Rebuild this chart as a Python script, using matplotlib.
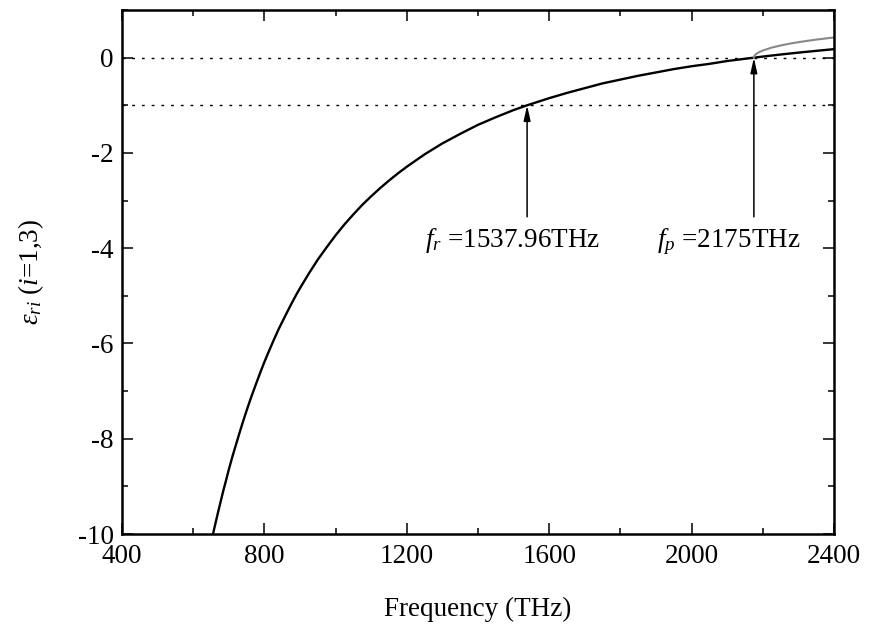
import matplotlib
matplotlib.use("Agg")
import matplotlib.pyplot as plt
from matplotlib.ticker import MultipleLocator

plt.rcParams['font.family'] = ['Liberation Serif', 'DejaVu Serif']
plt.rcParams['mathtext.fontset'] = 'custom'
plt.rcParams['mathtext.rm'] = 'Liberation Serif'
plt.rcParams['mathtext.it'] = 'Liberation Serif:italic'
plt.rcParams['axes.unicode_minus'] = False

# 数据
freq = [656, 660, 665, 670, 685, 690, 700, 710, 720, 730, 740, 750, 760, 775,
        790, 800, 810, 825, 840, 850, 860, 875, 890, 900, 925, 950, 975, 1000,
        1025, 1050, 1075, 1100, 1125, 1150, 1175, 1200, 1250, 1300, 1350, 1400,
        1450, 1500, 1538, 1600, 1650, 1700, 1750, 1800, 1850, 1900, 1950, 2000,
        2050, 2100, 2175, 2200, 2250, 2300, 2350, 2400]
eps = [-9.99, -9.86, -9.70, -9.54, -9.08, -8.94, -8.65, -8.38, -8.13, -7.88,
       -7.64, -7.41, -7.19, -6.88, -6.58, -6.39, -6.21, -5.95, -5.70, -5.55,
       -5.40, -5.18, -4.97, -4.84, -4.53, -4.24, -3.98, -3.73, -3.50, -3.29,
       -3.09, -2.91, -2.74, -2.58, -2.43, -2.29, -2.03, -1.80, -1.60, -1.41,
       -1.25, -1.10, -1.00, -0.85, -0.74, -0.64, -0.54, -0.46, -0.38, -0.31,
       -0.24, -0.18, -0.13, -0.07, 0.00, 0.023, 0.066, 0.106, 0.143, 0.179]

freq_g = [2175, 2177, 2180, 2185, 2190, 2200, 2225, 2250, 2275, 2300, 2325,
          2350, 2375, 2400]
n_g = [0.0, 0.043, 0.068, 0.096, 0.117, 0.150, 0.211, 0.256, 0.293, 0.325,
       0.353, 0.379, 0.402, 0.423]

f_r = 1537.96
f_p = 2175

fig = plt.figure(figsize=(8.7, 6.27), dpi=100)
ax = fig.add_axes([0.1402, 0.1483, 0.8184, 0.8357])

ax.axhline(0, color='k', ls=(0, (2, 5)), lw=1.0)
ax.axhline(-1, color='k', ls=(0, (2, 5)), lw=1.0)
ax.plot(freq, eps, color='k', lw=1.7)
ax.plot(freq_g, n_g, color='#888888', lw=1.5)

# 箭头
for fx, y0 in ((f_r, -1), (f_p, 0)):
    ax.annotate('', xy=(fx, y0), xytext=(fx, -3.34),
                arrowprops=dict(arrowstyle='-|>,head_length=0.9,head_width=0.2',
                                color='k', lw=1.1, shrinkA=0, shrinkB=0))

ax.text(1250, -3.97, r'$f_r$ =1537.96THz', fontsize=19.5, va='baseline')
ax.text(1903, -3.97, r'$f_p$ =2175THz', fontsize=19.5, va='baseline')

ax.set_xlim(400, 2400)
ax.set_ylim(-10, 1)
ax.xaxis.set_major_locator(MultipleLocator(400))
ax.xaxis.set_minor_locator(MultipleLocator(200))
ax.yaxis.set_major_locator(MultipleLocator(2))
ax.yaxis.set_minor_locator(MultipleLocator(1))
ax.tick_params(which='both', direction='in', top=True, right=True,
               labelsize=19.5, width=1.1)
ax.tick_params(which='major', length=8)
ax.tick_params(which='minor', length=4.3)
ax.tick_params(axis='x', pad=7)
ax.tick_params(axis='y', pad=6)
for s in ax.spines.values():
    s.set_linewidth(1.8)

ax.set_xlabel('Frequency (THz)', fontsize=19.5, labelpad=20)
ax.set_ylabel(r'$\varepsilon_{ri}$ ($i$=1,3)', fontsize=19.5, labelpad=23)

plt.savefig('out.png', dpi=100)
